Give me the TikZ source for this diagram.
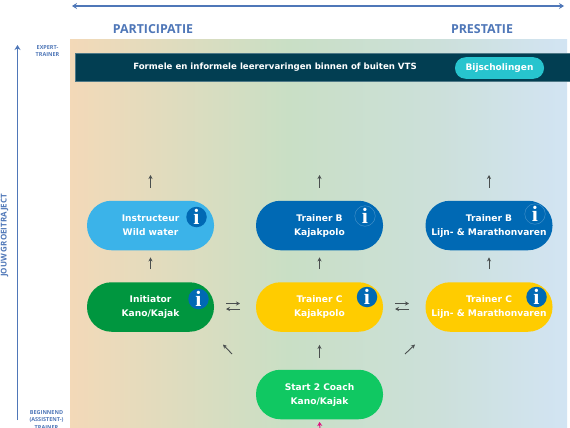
\documentclass[tikz,border=0pt]{standalone}
\usepackage{fontspec}
\setmainfont{Open Sans}
\newfontfamily\pillfont{DejaVu Sans}
\usetikzlibrary{arrows.meta}
\definecolor{axisblue}{HTML}{4F77B8}
\definecolor{bannerc}{HTML}{023E52}
\definecolor{tealc}{HTML}{27C4CE}
\definecolor{skyc}{HTML}{3BB3E9}
\definecolor{bluec}{HTML}{0069B4}
\definecolor{greenc}{HTML}{00963F}
\definecolor{yellowc}{HTML}{FFCC00}
\definecolor{lightg}{HTML}{10C862}
\definecolor{arrowc}{HTML}{4A4F4F}
\definecolor{pinkc}{HTML}{E0107F}
\newcommand\pilltext[2]{\raisebox{-1.5pt}{\begin{tabular}{@{}c@{}}#1\\#2\end{tabular}}}
\pgfdeclarehorizontalshading{bgshade}{100bp}{
 rgb(0bp)=(0.953,0.851,0.722);
 rgb(25bp)=(0.953,0.851,0.722);
 rgb(47bp)=(0.788,0.875,0.773);
 rgb(62bp)=(0.800,0.878,0.855);
 rgb(75bp)=(0.824,0.894,0.953);
 rgb(100bp)=(0.824,0.894,0.953)}
\tikzset{
 x=1pt,y=-1pt,
 pill/.style={draw=none,fill=#1,rounded corners=24.5pt,minimum width=127pt,minimum height=49.5pt,
   inner sep=0pt,text=white,font=\pillfont\bfseries\fontsize{9.1}{14}\selectfont},
 infodot/.style={circle,fill=bluec,minimum size=20.5pt,inner sep=0pt,text=white,
   font=\fontspec{Liberation Serif}\bfseries\fontsize{22}{22}\selectfont},
 infoline/.style={infodot,draw=white!30!bluec,line width=.4pt},
 step arrow/.style={draw=arrowc,line width=.9pt,-{Stealth[length=4pt,width=4pt]}},
 axis arrow/.style={draw=axisblue,line width=1.3pt},
 axislabel/.style={text=axisblue,font=\bfseries\fontsize{12.4}{14}\selectfont,inner sep=0pt},
 ticklabel/.style={text=axisblue,align=center,inner sep=0pt,font=\bfseries\fontsize{5.5}{7.5}\selectfont},
}
\begin{document}
\begin{tikzpicture}
\useasboundingbox (0,0) rectangle (570,428);
\fill[white] (0,0) rectangle (570,428);
\shade[shading=bgshade] (70,40) rectangle (567,428);
% axes
\coordinate (hl) at (72,6); \coordinate (hr) at (564,6);
\coordinate (vt) at (17.5,45); \coordinate (vb) at (17.5,420);
\draw[axis arrow,{Stealth[length=5pt,width=6pt]}-{Stealth[length=5pt,width=6pt]}] (hl) -- (hr);
\draw[axis arrow,-{Stealth[length=5pt,width=6pt]}] (vb) -- (vt);
\node[axislabel] (part) at (153,29) {PARTICIPATIE};
\node[axislabel] (prest) at (482,29) {PRESTATIE};
\node[ticklabel,rotate=90,font=\bfseries\fontsize{8}{10}\selectfont] (groei) at (4.5,235.5) {JOUW GROEITRAJECT};
\node[ticklabel] (expert) at (47.5,51) {EXPERT-\\TRAINER};
\node[ticklabel] (begin) at (46.5,420) {BEGINNEND\\(ASSISTENT-)\\TRAINER};
% banner
\node[fill=bannerc,draw=white!30!bannerc,line width=.3pt,minimum width=496pt,minimum height=28pt,inner sep=0pt,anchor=west] (banner) at (74.5,67.5) {};
\node[text=white,inner sep=0pt,font=\pillfont\bfseries\fontsize{8.6}{10}\selectfont] (bantext) at (275,67.5) {Formele en informele leerervaringen binnen of buiten VTS};
\node[fill=tealc,rounded corners=10.5pt,minimum width=89pt,minimum height=21.5pt,inner sep=0pt,text=white,font=\pillfont\bfseries\fontsize{9}{10}\selectfont] (bij) at (499.5,68) {Bijscholingen};
% pills
\node[pill=skyc] (instr) at (150.5,225.5) {\pilltext{Instructeur}{Wild water}};
\node[pill=bluec] (tbk) at (319.5,225.5) {\pilltext{Trainer B}{Kajakpolo}};
\node[pill=bluec] (tbl) at (489,225.5) {\pilltext{Trainer B}{Lijn- \& Marathonvaren}};
\node[pill=greenc] (init) at (150.5,307) {\pilltext{Initiator}{Kano/Kajak}};
\node[pill=yellowc] (tck) at (319.5,307) {\pilltext{Trainer C}{Kajakpolo}};
\node[pill=yellowc] (tcl) at (489,307) {\pilltext{Trainer C}{Lijn- \& Marathonvaren}};
\node[pill=lightg] (s2c) at (319.5,394.5) {\pilltext{Start 2 Coach}{Kano/Kajak}};
% info dots
\node[infodot] (i1) at (196.5,217) {i};
\node[infodot] (i2) at (198.5,299) {i};
\node[infoline] (i3) at (365,216) {i};
\node[infoline] (i4) at (535,214) {i};
\node[infodot] (i5) at (367,297) {i};
\node[infodot] (i6) at (536.5,297) {i};
% step arrows
\coordinate (o1) at (150.5,175); \coordinate (o2) at (319.5,175); \coordinate (o3) at (489,175);
\draw[step arrow,shorten <=13pt] (instr.north) -- (o1);
\draw[step arrow,shorten <=13pt] (tbk.north) -- (o2);
\draw[step arrow,shorten <=13pt] (tbl.north) -- (o3);
\draw[step arrow,shorten <=13pt,shorten >=7pt] (init.north) -- (instr.south);
\draw[step arrow,shorten <=13pt,shorten >=7pt] (tck.north) -- (tbk.south);
\draw[step arrow,shorten <=13pt,shorten >=7pt] (tcl.north) -- (tbl.south);
\draw[step arrow,shorten <=12pt,shorten >=13pt] (s2c.north) -- (tck.south);
% exchange arrows
\coordinate (ea) at (226,303.5); \coordinate (eb) at (240,303.5);
\coordinate (ec) at (240,309); \coordinate (ed) at (226,309);
\coordinate (fa) at (395,303.5); \coordinate (fb) at (409,303.5);
\coordinate (fc) at (409,309); \coordinate (fd) at (395,309);
\draw[step arrow] (ea) -- (eb);
\draw[step arrow] (ec) -- (ed);
\draw[step arrow] (fa) -- (fb);
\draw[step arrow] (fc) -- (fd);
% diagonals
\coordinate (da) at (232,354); \coordinate (db) at (223,344.5);
\coordinate (dc) at (405,354); \coordinate (dd) at (415,344.5);
\draw[step arrow] (da) -- (db);
\draw[step arrow] (dc) -- (dd);
% entry
\coordinate (entry) at (320,430);
\draw[draw=pinkc,line width=1pt,-{Stealth[length=4pt,width=5pt]}] (entry) -- (s2c.south |- 0,422);
\end{tikzpicture}
\end{document}
